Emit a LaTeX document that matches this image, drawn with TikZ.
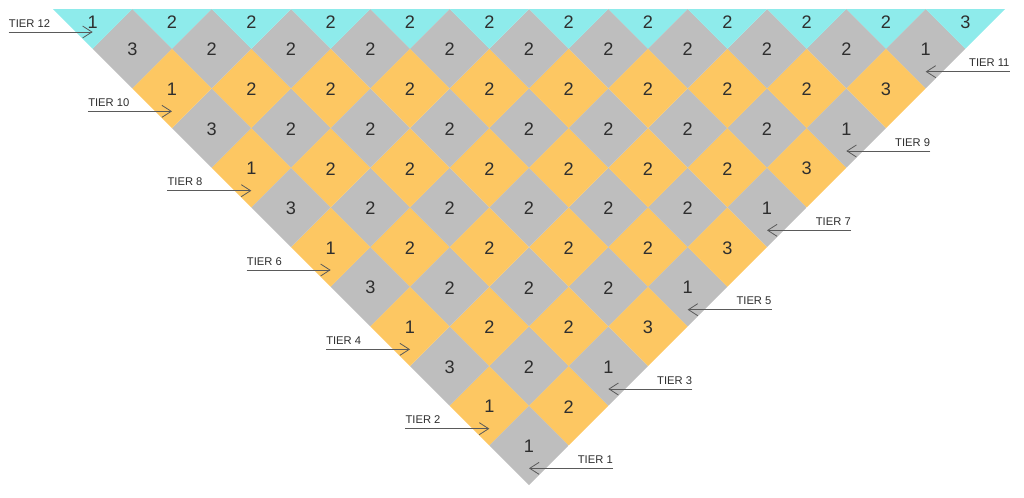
\documentclass[tikz,border=0pt]{standalone}
\usepackage{fontspec}
\setmainfont{Liberation Sans}
\usetikzlibrary{arrows.meta}
\definecolor{cyanT}{HTML}{8EEBEB}
\definecolor{grayT}{HTML}{BEBEBE}
\definecolor{orangeT}{HTML}{FDC762}
\definecolor{txtT}{HTML}{2E2E2E}
\definecolor{lineT}{HTML}{5A5A5A}
\tikzset{
  numlabel/.style={inner sep=0pt, text=txtT, font=\fontsize{13.6}{16}\selectfont},
  tierlabel/.style={inner sep=0pt, text=txtT, font=\fontsize{8.4}{10}\selectfont},
  tierarrow/.style={draw=lineT, line width=0.6pt, -{Straight Barb[length=7pt,width=9pt,line width=0.6pt]}}
}
\begin{document}
\begin{tikzpicture}[x=0.75pt,y=-0.75pt]
\useasboundingbox (0,0) rectangle (1024,497);
\def\h{39.667}
% diamonds
\begin{scope}
\clip (53,9) -- (1005,9) -- (529,485) -- cycle;
\foreach \k in {1,...,12}{
  \foreach \j in {1,...,\k}{
    \pgfmathsetmacro\cx{529+(2*\j-\k-1)*\h}
    \pgfmathsetmacro\cy{485-\k*\h}
    \ifnum\k=12 \def\fc{cyanT}\else\ifodd\k \def\fc{grayT}\else\def\fc{orangeT}\fi\fi
    \fill[\fc] (\cx-\h,\cy) -- (\cx,\cy-\h) -- (\cx+\h,\cy) -- (\cx,\cy+\h) -- cycle;
  }
}
\end{scope}
% numbers
\foreach \k in {1,...,12}{
  \foreach \j in {1,...,\k}{
    \pgfmathsetmacro\cx{529+(2*\j-\k-1)*\h}
    \pgfmathsetmacro\cy{485-\k*\h+1}
    \ifnum\k=12 \def\cy{22}\fi
    \def\lab{2}
    \ifnum\j=1 \ifodd\k \def\lab{3}\else\def\lab{1}\fi\fi
    \ifnum\j=\k \ifodd\k \def\lab{1}\else\def\lab{3}\fi\fi
    \ifnum\k=2 \ifnum\j=2 \def\lab{2}\fi\fi
    \node[numlabel] (n-\k-\j) at (\cx,\cy) {\lab};
  }
}
% left tier labels (even)
\foreach \t in {2,4,...,12}{
  \pgfmathsetmacro\cx{529-(\t-1)*\h}
  \pgfmathsetmacro\cy{485-\t*\h+23}
  \coordinate (tip-\t) at (\cx,\cy);
  \coordinate (start-\t) at (\cx-84,\cy);
  \node[tierlabel, anchor=base west] (tier-\t) at (\cx-84,\cy-5) {TIER \t};
  \draw[tierarrow] (start-\t) -- (tip-\t);
}
% right tier labels (odd)
\foreach \t in {1,3,...,11}{
  \pgfmathsetmacro\cx{529+(\t-1)*\h}
  \pgfmathsetmacro\cy{485-\t*\h+23}
  \coordinate (tip-\t) at (\cx,\cy);
  \coordinate (start-\t) at (\cx+84,\cy);
  \node[tierlabel, anchor=base east] (tier-\t) at (\cx+84,\cy-5) {TIER \t};
  \draw[tierarrow] (start-\t) -- (tip-\t);
}
\end{tikzpicture}
\end{document}
